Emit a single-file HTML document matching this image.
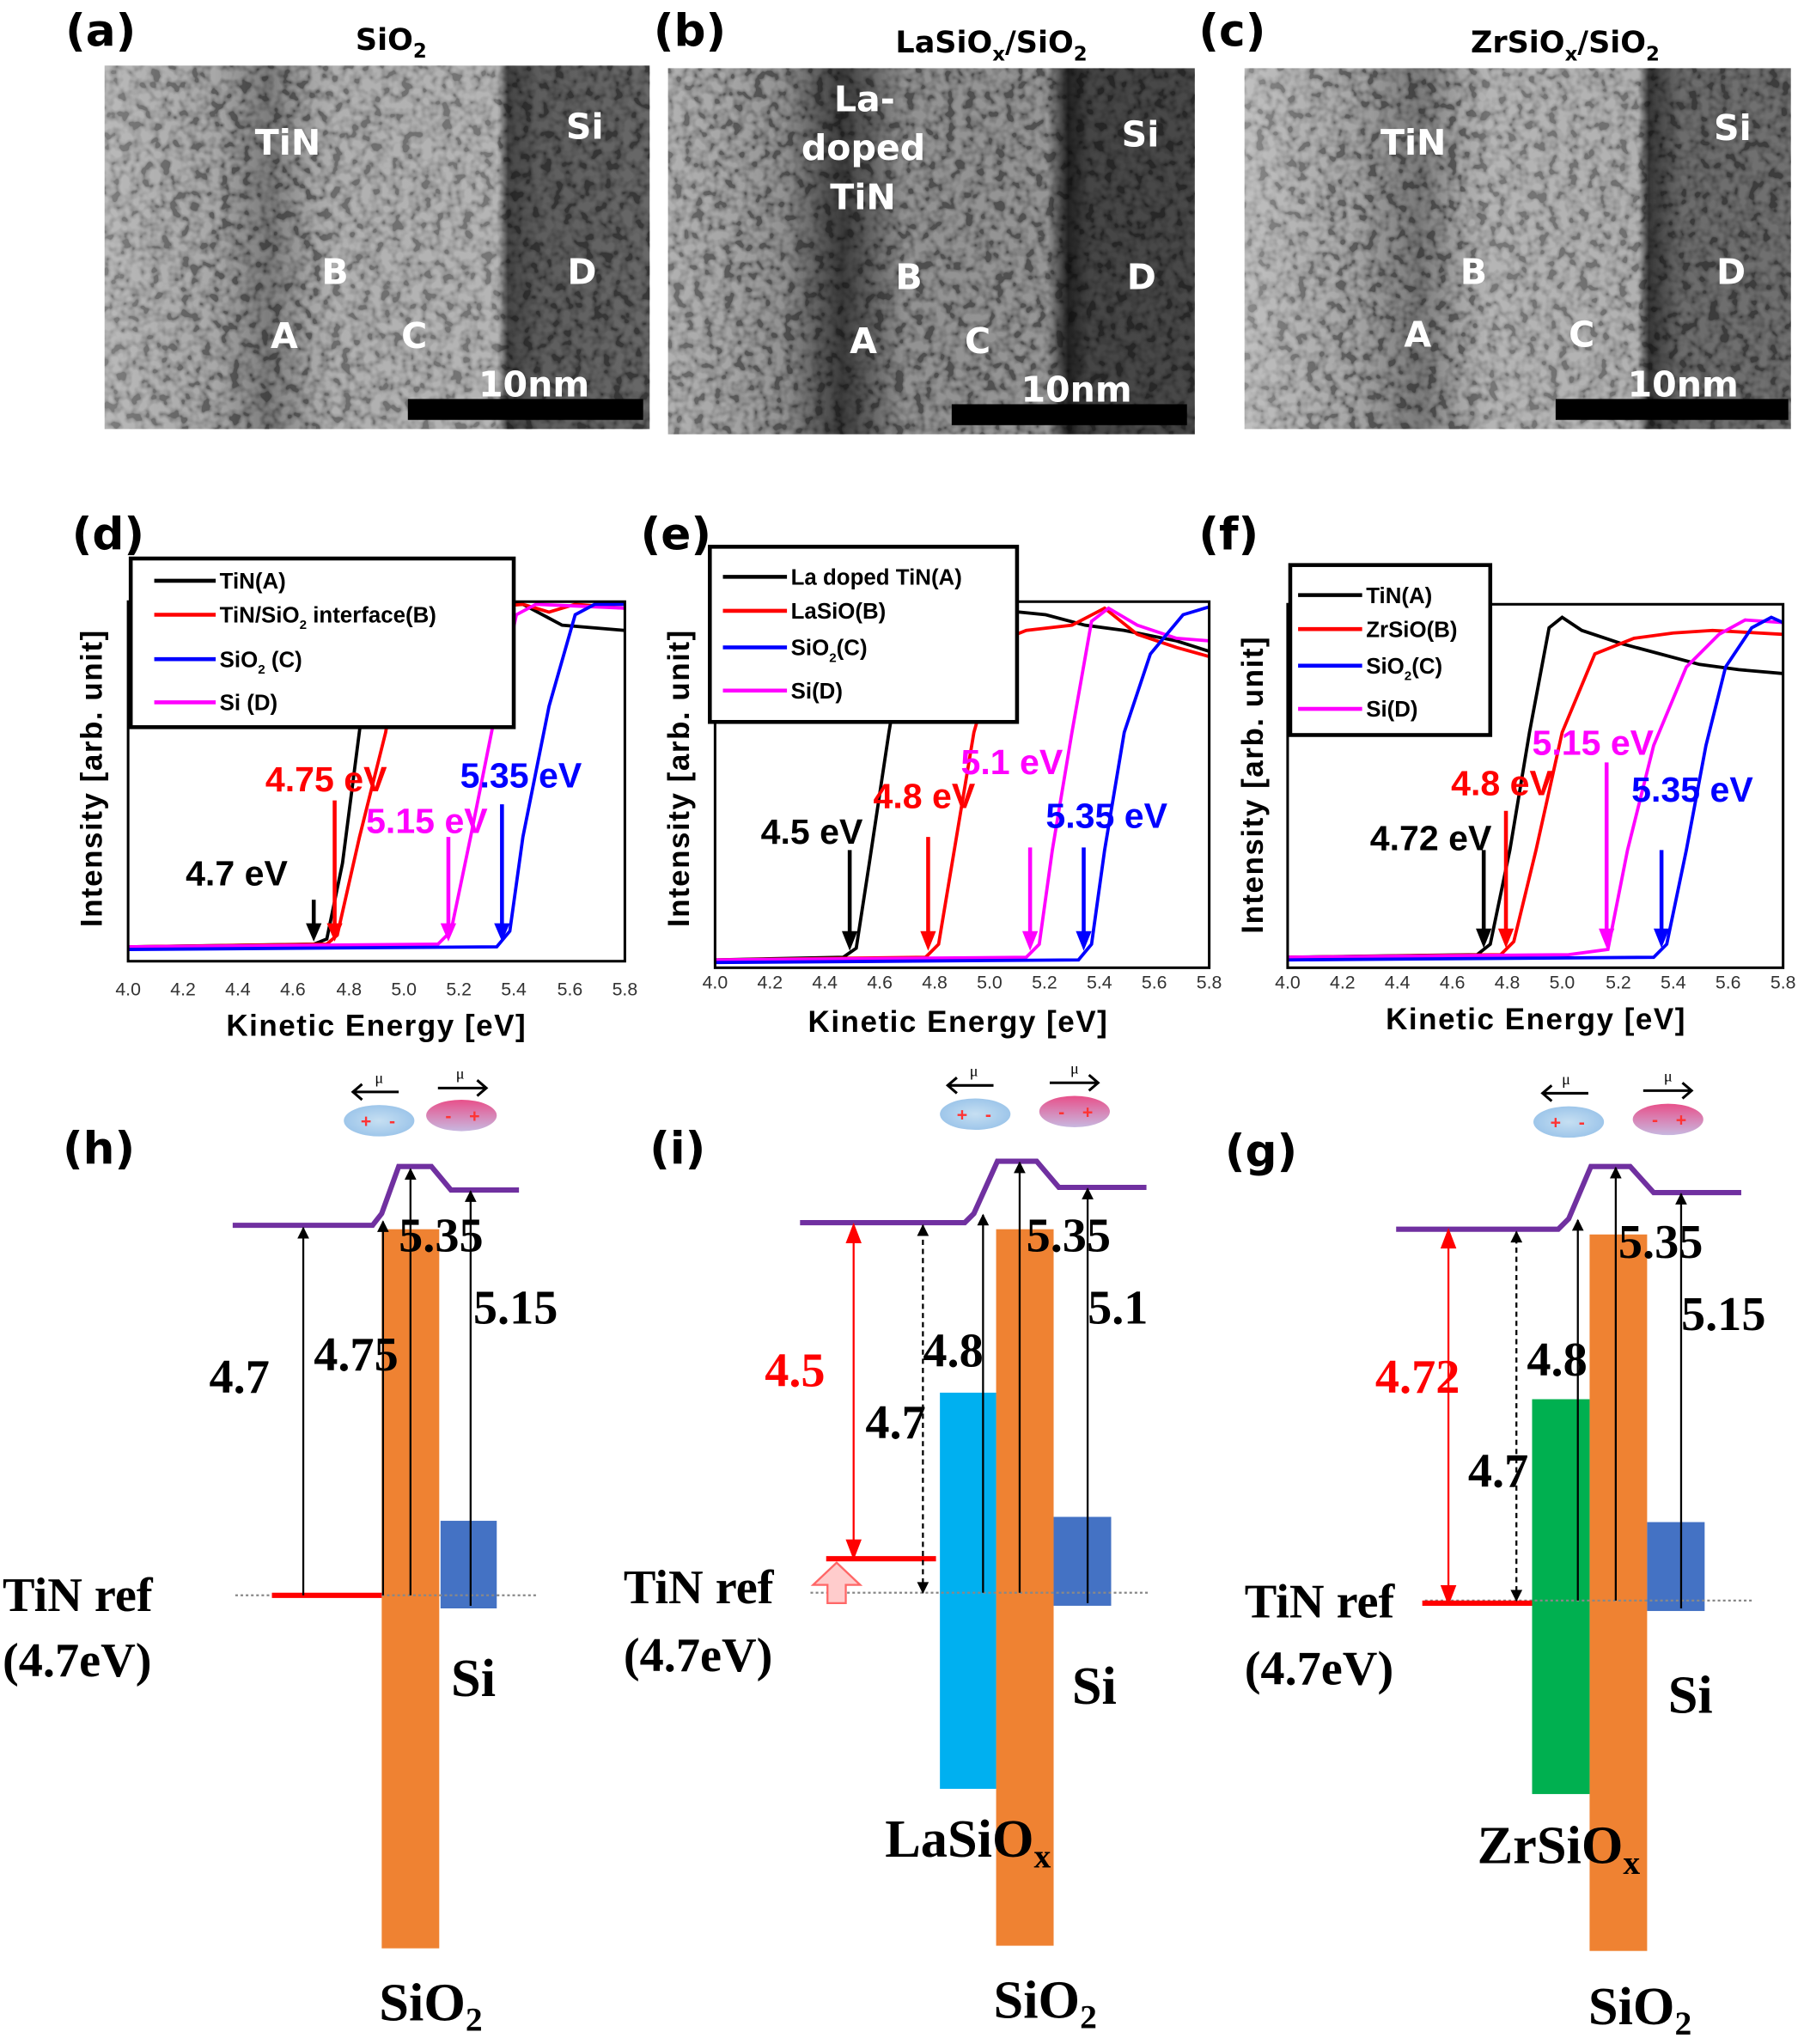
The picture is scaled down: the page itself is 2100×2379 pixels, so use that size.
<!DOCTYPE html>
<html><head><meta charset="utf-8"><style>
html,body{margin:0;padding:0;background:#fff;}
svg{display:block;}
.pl{font-family:"DejaVu Sans","Liberation Sans",sans-serif;font-weight:bold;font-size:34px;}
.tt{font-family:"DejaVu Sans","Liberation Sans",sans-serif;font-weight:bold;font-size:23px;}
.tem{font-family:"DejaVu Sans","Liberation Sans",sans-serif;font-size:27px;fill:#fff;font-weight:bold;}
.lg{font-family:"Liberation Sans",sans-serif;font-weight:bold;font-size:17px;}
.tk{font-family:"Liberation Sans",sans-serif;font-size:14px;fill:#333;}
.ax{font-family:"Liberation Sans",sans-serif;font-weight:bold;font-size:23px;letter-spacing:1px;}
.ev{font-family:"Liberation Sans",sans-serif;font-weight:bold;font-size:27px;}
.bd{font-family:"Liberation Serif",serif;font-weight:bold;font-size:37px;}
.bl{font-family:"Liberation Serif",serif;font-weight:bold;font-size:41px;}
</style></head><body>
<svg width="2100" height="2379" viewBox="0 0 1380 1563" xmlns="http://www.w3.org/2000/svg">
<defs>
<filter id="nz" x="0" y="0" width="100%" height="100%">
<feTurbulence type="fractalNoise" baseFrequency="0.13" numOctaves="2" seed="3"/>
<feColorMatrix type="matrix" values="3 0 0 0 -1  3 0 0 0 -1  3 0 0 0 -1  0 0 0 0 1"/>
</filter>
<linearGradient id="ga" x1="0" x2="1" y1="0" y2="0">
<stop offset="0" stop-color="#9c9c9c"/><stop offset="0.2" stop-color="#828282"/><stop offset="0.3" stop-color="#606060"/><stop offset="0.42" stop-color="#8e8e8e"/><stop offset="0.72" stop-color="#969696"/><stop offset="0.74" stop-color="#363636"/><stop offset="0.8" stop-color="#484848"/><stop offset="1" stop-color="#505050"/>
</linearGradient>
<linearGradient id="gb" x1="0" x2="1" y1="0" y2="0">
<stop offset="0" stop-color="#909090"/><stop offset="0.22" stop-color="#707070"/><stop offset="0.33" stop-color="#2e2e2e"/><stop offset="0.45" stop-color="#707070"/><stop offset="0.72" stop-color="#737373"/><stop offset="0.76" stop-color="#1a1a1a"/><stop offset="0.8" stop-color="#353535"/><stop offset="1" stop-color="#383838"/>
</linearGradient>
<linearGradient id="gc" x1="0" x2="1" y1="0" y2="0">
<stop offset="0" stop-color="#a6a6a6"/><stop offset="0.2" stop-color="#808080"/><stop offset="0.32" stop-color="#5e5e5e"/><stop offset="0.45" stop-color="#969696"/><stop offset="0.72" stop-color="#909090"/><stop offset="0.74" stop-color="#2a2a2a"/><stop offset="0.8" stop-color="#535353"/><stop offset="1" stop-color="#575757"/>
</linearGradient>
<radialGradient id="blue"><stop offset="0" stop-color="#c6dff2"/><stop offset="1" stop-color="#9ec6ea"/></radialGradient>
<linearGradient id="pink" x1="0" x2="0" y1="0" y2="1"><stop offset="0" stop-color="#e8508a"/><stop offset="1" stop-color="#c8b8e0"/></linearGradient>
<marker id="ah" viewBox="0 0 10 10" refX="9" refY="5" markerWidth="12" markerHeight="9" orient="auto-start-reverse" markerUnits="userSpaceOnUse"><path d="M0,0 L10,5 L0,10z"/></marker>
</defs>

<!-- TEM images -->
<rect x="80" y="50" width="417" height="278" fill="url(#ga)"/>
<rect x="80" y="50" width="417" height="278" filter="url(#nz)" opacity="0.3" style="mix-blend-mode:overlay"/>
<rect x="511" y="52" width="403" height="280" fill="url(#gb)"/>
<rect x="511" y="52" width="403" height="280" filter="url(#nz)" opacity="0.3" style="mix-blend-mode:overlay"/>
<rect x="952" y="52" width="418" height="276" fill="url(#gc)"/>
<rect x="952" y="52" width="418" height="276" filter="url(#nz)" opacity="0.3" style="mix-blend-mode:overlay"/>

<g class="tem">
<text x="195" y="118">TiN</text><text x="433" y="106">Si</text><text x="246" y="217">B</text><text x="434" y="217">D</text><text x="207" y="266">A</text><text x="307" y="266">C</text>
<text x="366" y="303">10nm</text>
<text x="638" y="85">La-</text><text x="613" y="122">doped</text><text x="635" y="160">TiN</text><text x="858" y="112">Si</text><text x="685" y="221">B</text><text x="862" y="221">D</text><text x="650" y="270">A</text><text x="738" y="270">C</text>
<text x="781" y="307">10nm</text>
<text x="1056" y="118">TiN</text><text x="1311" y="107">Si</text><text x="1117" y="217">B</text><text x="1313" y="217">D</text><text x="1074" y="265">A</text><text x="1200" y="265">C</text>
<text x="1245" y="303">10nm</text>
</g>
<rect x="312" y="305" width="180" height="16" fill="#000"/>
<rect x="728" y="309" width="180" height="16" fill="#000"/>
<rect x="1190" y="305" width="178" height="16" fill="#000"/>

<g class="pl">
<text x="50" y="35">(a)</text><text x="500" y="35">(b)</text><text x="917" y="35">(c)</text>
<text x="55" y="420">(d)</text><text x="490" y="420">(e)</text><text x="917" y="420">(f)</text>
<text x="48" y="890">(h)</text><text x="497" y="890">(i)</text><text x="937" y="892">(g)</text>
</g>
<g class="tt">
<text x="272" y="38">SiO<tspan font-size="15" dy="6">2</tspan></text>
<text x="685" y="40">LaSiO<tspan font-size="15" dy="6">x</tspan><tspan dy="-6">/SiO</tspan><tspan font-size="15" dy="6">2</tspan></text>
<text x="1125" y="40">ZrSiO<tspan font-size="15" dy="6">x</tspan><tspan dy="-6">/SiO</tspan><tspan font-size="15" dy="6">2</tspan></text>
</g>

<!-- Chart d -->
<g fill="none" stroke-width="2.5">
<path stroke="#000" d="M98,724 L240,722 L250,718 L262,660 L280,520 L295,462 L400,462 L430,478 L478,482"/>
<path stroke="#f00" d="M98,724 L250,722 L258,715 L275,640 L295,560 L310,470 L400,462 L420,468 L440,462 L478,465"/>
<path stroke="#f0f" d="M98,724 L335,722 L345,712 L360,640 L380,540 L395,470 L410,462 L478,465"/>
<path stroke="#00f" d="M98,726 L380,724 L390,712 L400,640 L420,540 L440,470 L455,462 L478,462"/>
</g>
<rect x="98" y="460" width="380" height="275" fill="none" stroke="#000" stroke-width="2"/>
<rect x="100" y="427" width="293" height="129" fill="#fff" stroke="#000" stroke-width="3"/>
<g stroke-width="3"><line x1="118" y1="444" x2="165" y2="444" stroke="#000"/><line x1="118" y1="470" x2="165" y2="470" stroke="#f00"/><line x1="118" y1="504" x2="165" y2="504" stroke="#00f"/><line x1="118" y1="537" x2="165" y2="537" stroke="#f0f"/></g>
<g class="lg"><text x="168" y="450">TiN(A)</text><text x="168" y="476">TiN/SiO<tspan font-size="10" dy="5">2</tspan><tspan dy="-5"> interface(B)</tspan></text><text x="168" y="510">SiO<tspan font-size="10" dy="5">2</tspan><tspan dy="-5"> (C)</tspan></text><text x="168" y="543">Si (D)</text></g>
<g stroke-width="3"><line x1="240" y1="688" x2="240" y2="710" stroke="#000"/><line x1="256" y1="612" x2="256" y2="710" stroke="#f00"/><line x1="343" y1="640" x2="343" y2="710" stroke="#f0f"/><line x1="384" y1="615" x2="384" y2="710" stroke="#00f"/></g>
<path d="M234,706 L246,706 L240,720z" fill="#000"/><path d="M250,706 L262,706 L256,720z" fill="#f00"/><path d="M337,706 L349,706 L343,720z" fill="#f0f"/><path d="M378,706 L390,706 L384,720z" fill="#00f"/>
<g class="ev"><text x="203" y="605" fill="#f00">4.75 eV</text><text x="352" y="602" fill="#00f">5.35 eV</text><text x="280" y="637" fill="#f0f">5.15 eV</text><text x="142" y="677">4.7 eV</text></g>

<!-- Chart e -->
<g fill="none" stroke-width="2.5">
<path stroke="#000" d="M547,734 L645,732 L655,725 L665,660 L680,560 L695,470 L760,466 L800,470 L830,478 L860,482 L900,490 L925,498"/>
<path stroke="#f00" d="M547,734 L708,732 L718,722 L730,650 L745,560 L765,490 L785,482 L820,478 L845,465 L870,485 L900,495 L925,502"/>
<path stroke="#f0f" d="M547,734 L785,732 L795,722 L805,650 L820,560 L835,475 L848,465 L870,478 L900,488 L925,490"/>
<path stroke="#00f" d="M547,736 L825,734 L835,722 L845,650 L860,560 L880,500 L905,470 L925,464"/>
</g>
<rect x="547" y="460" width="378" height="280" fill="none" stroke="#000" stroke-width="2"/>
<rect x="543" y="418" width="235" height="134" fill="#fff" stroke="#000" stroke-width="3"/>
<g stroke-width="3"><line x1="553" y1="441" x2="602" y2="441" stroke="#000"/><line x1="553" y1="467" x2="602" y2="467" stroke="#f00"/><line x1="553" y1="495" x2="602" y2="495" stroke="#00f"/><line x1="553" y1="528" x2="602" y2="528" stroke="#f0f"/></g>
<g class="lg"><text x="605" y="447">La doped TiN(A)</text><text x="605" y="473">LaSiO(B)</text><text x="605" y="501">SiO<tspan font-size="10" dy="5">2</tspan><tspan dy="-5">(C)</tspan></text><text x="605" y="534">Si(D)</text></g>
<g stroke-width="3"><line x1="650" y1="650" x2="650" y2="715" stroke="#000"/><line x1="710" y1="640" x2="710" y2="715" stroke="#f00"/><line x1="788" y1="648" x2="788" y2="715" stroke="#f0f"/><line x1="829" y1="648" x2="829" y2="715" stroke="#00f"/></g>
<path d="M644,712 L656,712 L650,727z" fill="#000"/><path d="M704,712 L716,712 L710,727z" fill="#f00"/><path d="M782,712 L794,712 L788,727z" fill="#f0f"/><path d="M823,712 L835,712 L829,727z" fill="#00f"/>
<g class="ev"><text x="582" y="645">4.5 eV</text><text x="668" y="618" fill="#f00">4.8 eV</text><text x="735" y="592" fill="#f0f">5.1 eV</text><text x="800" y="633" fill="#00f">5.35 eV</text></g>

<!-- Chart f -->
<g fill="none" stroke-width="2.5">
<path stroke="#000" d="M985,732 L1130,730 L1140,722 L1155,650 L1170,560 L1185,480 L1195,472 L1210,482 L1240,492 L1270,500 L1300,508 L1330,512 L1364,515"/>
<path stroke="#f00" d="M985,732 L1148,730 L1158,720 L1175,650 L1195,560 L1220,500 L1250,488 L1280,484 L1310,482 L1364,485"/>
<path stroke="#f0f" d="M985,732 L1200,730 L1230,726 L1245,650 L1265,570 L1290,510 L1315,485 L1335,474 L1364,476"/>
<path stroke="#00f" d="M985,734 L1265,732 L1275,722 L1290,650 L1305,570 L1320,510 L1340,480 L1355,472 L1364,476"/>
</g>
<rect x="985" y="462" width="379" height="278" fill="none" stroke="#000" stroke-width="2"/>
<rect x="987" y="432" width="153" height="130" fill="#fff" stroke="#000" stroke-width="3"/>
<g stroke-width="3"><line x1="993" y1="455" x2="1042" y2="455" stroke="#000"/><line x1="993" y1="481" x2="1042" y2="481" stroke="#f00"/><line x1="993" y1="509" x2="1042" y2="509" stroke="#00f"/><line x1="993" y1="542" x2="1042" y2="542" stroke="#f0f"/></g>
<g class="lg"><text x="1045" y="461">TiN(A)</text><text x="1045" y="487">ZrSiO(B)</text><text x="1045" y="515">SiO<tspan font-size="10" dy="5">2</tspan><tspan dy="-5">(C)</tspan></text><text x="1045" y="548">Si(D)</text></g>
<g stroke-width="3"><line x1="1135" y1="650" x2="1135" y2="712" stroke="#000"/><line x1="1152" y1="620" x2="1152" y2="712" stroke="#f00"/><line x1="1229" y1="583" x2="1229" y2="712" stroke="#f0f"/><line x1="1271" y1="650" x2="1271" y2="712" stroke="#00f"/></g>
<path d="M1129,710 L1141,710 L1135,725z" fill="#000"/><path d="M1146,710 L1158,710 L1152,725z" fill="#f00"/><path d="M1223,710 L1235,710 L1229,725z" fill="#f0f"/><path d="M1265,710 L1277,710 L1271,725z" fill="#00f"/>
<g class="ev"><text x="1172" y="577" fill="#f0f">5.15 eV</text><text x="1110" y="608" fill="#f00">4.8 eV</text><text x="1248" y="613" fill="#00f">5.35 eV</text><text x="1048" y="650">4.72 eV</text></g>

<!-- tick labels -->
<g class="tk" text-anchor="middle">
<text x="98" y="761">4.0</text><text x="140" y="761">4.2</text><text x="182" y="761">4.4</text><text x="224" y="761">4.6</text><text x="267" y="761">4.8</text><text x="309" y="761">5.0</text><text x="351" y="761">5.2</text><text x="393" y="761">5.4</text><text x="436" y="761">5.6</text><text x="478" y="761">5.8</text>
<text x="547" y="756">4.0</text><text x="589" y="756">4.2</text><text x="631" y="756">4.4</text><text x="673" y="756">4.6</text><text x="715" y="756">4.8</text><text x="757" y="756">5.0</text><text x="799" y="756">5.2</text><text x="841" y="756">5.4</text><text x="883" y="756">5.6</text><text x="925" y="756">5.8</text>
<text x="985" y="756">4.0</text><text x="1027" y="756">4.2</text><text x="1069" y="756">4.4</text><text x="1111" y="756">4.6</text><text x="1153" y="756">4.8</text><text x="1195" y="756">5.0</text><text x="1238" y="756">5.2</text><text x="1280" y="756">5.4</text><text x="1322" y="756">5.6</text><text x="1364" y="756">5.8</text>
</g>
<g class="ax" text-anchor="middle">
<text x="288" y="792">Kinetic Energy [eV]</text><text x="733" y="789">Kinetic Energy [eV]</text><text x="1175" y="787">Kinetic Energy [eV]</text>
<text transform="translate(78,595) rotate(-90)">Intensity [arb. unit]</text>
<text transform="translate(527,595) rotate(-90)">Intensity [arb. unit]</text>
<text transform="translate(966,600) rotate(-90)">Intensity [arb. unit]</text>
</g>

<!-- Band diagrams -->
<g fill="#ef8232">
<rect x="292" y="940" width="44" height="550"/><rect x="762" y="940" width="44" height="548"/><rect x="1216" y="944" width="44" height="548"/>
</g>
<rect x="337" y="1163" width="43" height="67" fill="#4472c4"/>
<rect x="806" y="1160" width="44" height="68" fill="#4472c4"/>
<rect x="1260" y="1164" width="44" height="68" fill="#4472c4"/>
<rect x="719" y="1065" width="43" height="303" fill="#00b0f0"/>
<rect x="1172" y="1070" width="44" height="302" fill="#00b050"/>
<g stroke="#888" stroke-dasharray="2,2" stroke-width="1.5"><line x1="180" y1="1220" x2="410" y2="1220"/><line x1="620" y1="1218" x2="880" y2="1218"/><line x1="1090" y1="1224" x2="1340" y2="1224"/></g>
<g stroke="#f00" stroke-width="4"><line x1="208" y1="1220" x2="292" y2="1220"/><line x1="632" y1="1192" x2="716" y2="1192"/><line x1="1088" y1="1226" x2="1172" y2="1226"/></g>
<path d="M633,1226 L633,1212 L622,1212 L640,1195 L658,1212 L647,1212 L647,1226z" fill="#fcc" stroke="#f66" stroke-width="1.5"/>
<g fill="none" stroke="#7030a0" stroke-width="4">
<path d="M178,937 L285,937 L292,928 L305,892 L330,892 L345,910 L397,910"/>
<path d="M612,935 L738,935 L745,928 L763,888 L793,888 L810,908 L877,908"/>
<path d="M1068,940 L1192,940 L1200,932 L1217,892 L1247,892 L1265,912 L1332,912"/>
</g>
<g stroke="#000" stroke-width="1.5" marker-end="url(#ah)">
<line x1="232" y1="1220" x2="232" y2="939"/><line x1="293" y1="1220" x2="293" y2="934"/><line x1="314" y1="1220" x2="314" y2="894"/><line x1="360" y1="1228" x2="360" y2="911"/>
<line x1="752" y1="1218" x2="752" y2="929"/><line x1="780" y1="1218" x2="780" y2="889"/><line x1="832" y1="1226" x2="832" y2="909"/>
<line x1="1207" y1="1224" x2="1207" y2="933"/><line x1="1236" y1="1224" x2="1236" y2="893"/><line x1="1286" y1="1230" x2="1286" y2="913"/>
</g>
<g stroke="#000" stroke-width="1.5" stroke-dasharray="4,3" marker-end="url(#ah)" marker-start="url(#ah)"><line x1="706" y1="1218" x2="706" y2="937"/><line x1="1160" y1="1224" x2="1160" y2="942"/></g>
<g stroke="#f00" fill="#f00" stroke-width="1.5"><line x1="653" y1="1188" x2="653" y2="940"/><line x1="1108" y1="1224" x2="1108" y2="944"/>
<path d="M648,950 L653,937 L658,950z M648,1178 L653,1191 L658,1178z M1103,954 L1108,941 L1113,954z M1103,1213 L1108,1226 L1113,1213z"/></g>
<!-- dipoles -->
<g>
<ellipse cx="290" cy="857" rx="27" ry="12" fill="url(#blue)"/><ellipse cx="353" cy="853" rx="27" ry="12" fill="url(#pink)"/>
<ellipse cx="746" cy="852" rx="27" ry="12" fill="url(#blue)"/><ellipse cx="822" cy="850" rx="27" ry="12" fill="url(#pink)"/>
<ellipse cx="1200" cy="858" rx="27" ry="12" fill="url(#blue)"/><ellipse cx="1276" cy="856" rx="27" ry="12" fill="url(#pink)"/>
</g>
<g stroke="#000" stroke-width="2" fill="none">
<path d="M305,835 L270,835 M277,829 L270,835 L277,841"/><path d="M335,832 L372,832 M365,826 L372,832 L365,838"/>
<path d="M760,830 L725,830 M732,824 L725,830 L732,836"/><path d="M803,828 L840,828 M833,822 L840,828 L833,834"/>
<path d="M1215,836 L1180,836 M1187,830 L1180,836 L1187,842"/><path d="M1257,834 L1294,834 M1287,828 L1294,834 L1287,840"/>
</g>
<g font-family="Liberation Serif,serif" font-size="12" text-anchor="middle"><text x="290" y="828">μ</text><text x="352" y="825">μ</text><text x="745" y="823">μ</text><text x="822" y="821">μ</text><text x="1198" y="829">μ</text><text x="1276" y="827">μ</text></g>
<g fill="#f33" font-family="Liberation Sans,sans-serif" font-size="14" font-weight="bold" text-anchor="middle"><text x="280" y="862">+</text><text x="300" y="862">-</text><text x="343" y="858">-</text><text x="363" y="858">+</text><text x="736" y="857">+</text><text x="756" y="857">-</text><text x="812" y="855">-</text><text x="832" y="855">+</text><text x="1190" y="863">+</text><text x="1210" y="863">-</text><text x="1266" y="861">-</text><text x="1286" y="861">+</text></g>

<g class="bd">
<text x="160" y="1065">4.7</text><text x="240" y="1048">4.75</text><text x="305" y="957">5.35</text><text x="362" y="1012">5.15</text>
<text x="585" y="1060" fill="#f00">4.5</text><text x="706" y="1045">4.8</text><text x="662" y="1100">4.7</text><text x="785" y="957">5.35</text><text x="832" y="1012">5.1</text>
<text x="1052" y="1065" fill="#f00">4.72</text><text x="1168" y="1052">4.8</text><text x="1123" y="1137">4.7</text><text x="1238" y="962">5.35</text><text x="1286" y="1017">5.15</text>
<text x="2" y="1232">TiN ref</text><text x="2" y="1282">(4.7eV)</text>
<text x="477" y="1226">TiN ref</text><text x="477" y="1278">(4.7eV)</text>
<text x="952" y="1237">TiN ref</text><text x="952" y="1288">(4.7eV)</text>
</g>
<g class="bl">
<text x="345" y="1297">Si</text><text x="820" y="1303">Si</text><text x="1276" y="1310">Si</text>
<text x="290" y="1545">SiO<tspan font-size="26" dy="8">2</tspan></text>
<text x="760" y="1543">SiO<tspan font-size="26" dy="8">2</tspan></text>
<text x="1215" y="1548">SiO<tspan font-size="26" dy="8">2</tspan></text>
<text x="677" y="1420">LaSiO<tspan font-size="26" dy="8">x</tspan></text>
<text x="1130" y="1425">ZrSiO<tspan font-size="26" dy="8">x</tspan></text>
</g>
</svg>
</body></html>
